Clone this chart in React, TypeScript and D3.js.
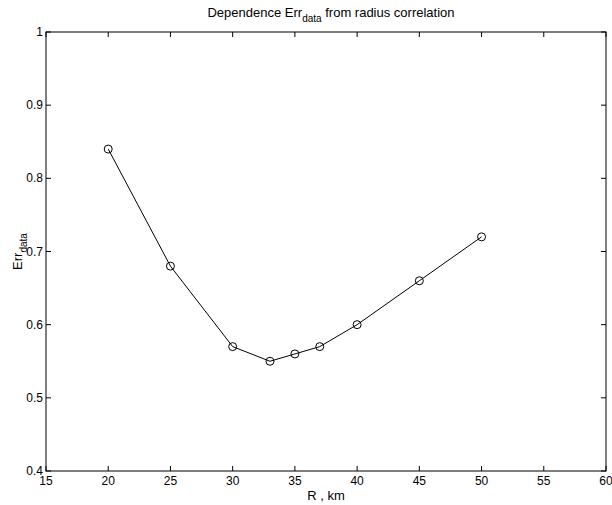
import React, { useEffect, useRef } from 'react';
import * as d3 from 'd3';

const radius = [20, 25, 30, 33, 35, 37, 40, 45, 50];
const errData = [0.84, 0.68, 0.57, 0.55, 0.56, 0.57, 0.6, 0.66, 0.72];
const xTicks = [15, 20, 25, 30, 35, 40, 45, 50, 55, 60];
const yTicks = [0.4, 0.5, 0.6, 0.7, 0.8, 0.9, 1];

const W = 612, H = 505;
const margin = { left: 46, top: 32, right: 6, bottom: 34 };

export default function App() {
  const ref = useRef<SVGSVGElement>(null);

  useEffect(() => {
    const svg = d3.select(ref.current);
    svg.selectAll('*').remove();
    const font = 'Liberation Sans, Arial, sans-serif';

    const x = d3.scaleLinear().domain([15, 60]).range([margin.left, W - margin.right]);
    const y = d3.scaleLinear().domain([0.4, 1]).range([H - margin.bottom, margin.top]);
    const tick = 5;

    const g = svg.append('g');

    // frame
    g.append('rect')
      .attr('x', x(15)).attr('y', y(1))
      .attr('width', x(60) - x(15)).attr('height', y(0.4) - y(1))
      .attr('fill', 'none').attr('stroke', '#000').attr('stroke-width', 1);

    // ticks pointing inside, on all four sides
    xTicks.forEach(t => {
      g.append('line').attr('x1', x(t)).attr('x2', x(t))
        .attr('y1', y(0.4)).attr('y2', y(0.4) - tick).attr('stroke', '#000');
      g.append('line').attr('x1', x(t)).attr('x2', x(t))
        .attr('y1', y(1)).attr('y2', y(1) + tick).attr('stroke', '#000');
      g.append('text').attr('x', x(t)).attr('y', y(0.4) + 14)
        .attr('text-anchor', 'middle').attr('font-family', font).attr('font-size', 12)
        .text(t);
    });
    yTicks.forEach(t => {
      g.append('line').attr('x1', x(15)).attr('x2', x(15) + tick)
        .attr('y1', y(t)).attr('y2', y(t)).attr('stroke', '#000');
      g.append('line').attr('x1', x(60)).attr('x2', x(60) - tick)
        .attr('y1', y(t)).attr('y2', y(t)).attr('stroke', '#000');
      g.append('text').attr('x', x(15) - 3).attr('y', y(t) + 4)
        .attr('text-anchor', 'end').attr('font-family', font).attr('font-size', 12)
        .text(d3.format('~g')(t));
    });

    const pts = radius.map((r, i) => [r, errData[i]] as [number, number]);
    const line = d3.line<[number, number]>().x(d => x(d[0])).y(d => y(d[1]));
    g.append('path').attr('d', line(pts)).attr('fill', 'none')
      .attr('stroke', '#000').attr('stroke-width', 1);
    g.selectAll('circle').data(pts).enter().append('circle')
      .attr('cx', d => x(d[0])).attr('cy', d => y(d[1])).attr('r', 4)
      .attr('fill', 'none').attr('stroke', '#000').attr('stroke-width', 1);

    // title
    const title = g.append('text').attr('x', 331).attr('y', 17)
      .attr('text-anchor', 'middle').attr('font-family', font).attr('font-size', 13);
    title.append('tspan').text('Dependence Err');
    title.append('tspan').attr('dy', 5).attr('font-size', 10).text('data');
    title.append('tspan').attr('dy', -5).text(' from radius correlation');

    // x label
    g.append('text').attr('x', 326).attr('y', 500)
      .attr('text-anchor', 'middle').attr('font-family', font).attr('font-size', 13)
      .text('R , km');

    // y label
    const yl = g.append('text')
      .attr('transform', `translate(22, ${(y(0.4) + y(1)) / 2}) rotate(-90)`)
      .attr('text-anchor', 'middle').attr('font-family', font).attr('font-size', 13);
    yl.append('tspan').text('Err');
    yl.append('tspan').attr('dy', 5).attr('font-size', 10).text('data');
  }, []);

  return (
    <svg ref={ref} width={W} height={H}
      style={{ position: 'absolute', left: 0, top: 0, background: '#fff' }} />
  );
}
